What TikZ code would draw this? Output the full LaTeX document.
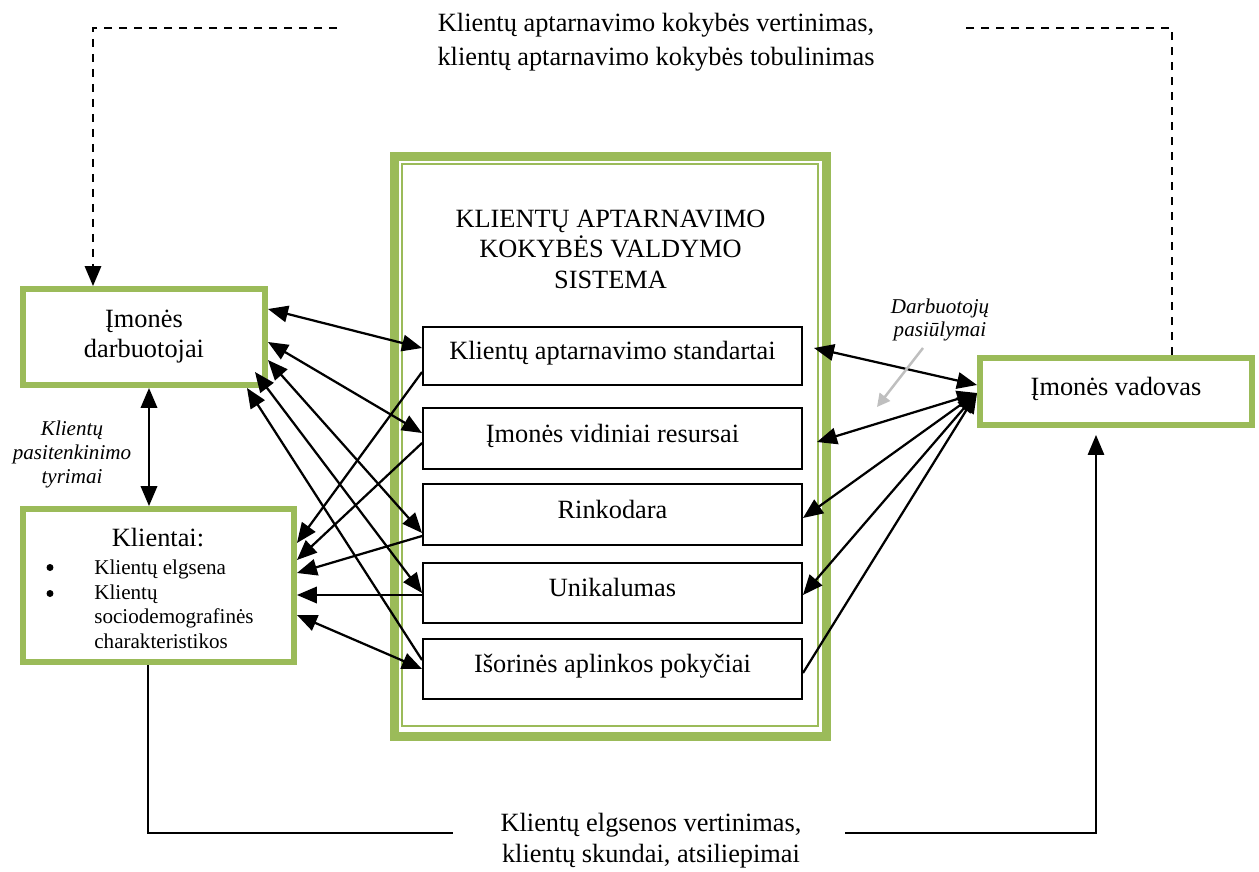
\documentclass[tikz,border=0pt]{standalone}
\usepackage{fontspec}
\setmainfont{Liberation Serif}
\usetikzlibrary{arrows.meta,calc}
\definecolor{grn}{HTML}{9BBB59}
\definecolor{lgray}{HTML}{BFBFBF}

\begin{document}
\begin{tikzpicture}[x=0.02cm,y=-0.02cm,
  gbox/.style={draw=grn, line width=0.12cm, inner sep=0pt, align=center,
    font=\fontsize{15}{17}\selectfont},
  ibox/.style={draw=black, line width=0.04cm, minimum width=7.58cm, inner sep=0pt,
    text height=0.7em, text depth=0.25em, font=\fontsize{15}{17}\selectfont},
  txt/.style={inner sep=0pt, align=center, font=\fontsize{15}{17.4}\selectfont},
  small/.style={inner sep=0pt, font=\fontsize{12}{14}\selectfont},
  dot/.style={circle, fill=black, inner sep=0pt, minimum size=0.14cm},
  note/.style={inner sep=0pt, align=center, font=\fontsize{12}{13.6}\selectfont\itshape},
  tip/.tip={Triangle[length=0.4cm,width=0.33cm]},
  stip/.tip={Triangle[length=0.26cm,width=0.26cm]},
  link/.style={line width=0.045cm, -tip},
  blink/.style={line width=0.045cm, tip-tip},
  flow/.style={line width=0.03cm},
  dashln/.style={line width=0.035cm, dash pattern=on 0.17cm off 0.13cm}
]
\useasboundingbox (0,0) rectangle (1259,872);

% central system frame (thick-thin green border)
\node[draw=grn, line width=0.18cm, minimum width=8.64cm, minimum height=11.61cm, inner sep=0pt]
  (sys) at (610.5,446.75) {};
\node[draw=grn, line width=0.04cm, minimum width=8.32cm, minimum height=11.24cm, inner sep=0pt]
  (sysin) at (610,445) {};
\node[txt] (title) at (610.5,249) {KLIENTŲ APTARNAVIMO\\KOKYBĖS VALDYMO\\SISTEMA};

% components of the system
\node[ibox, minimum height=1.16cm] (b1) at (612.5,356) {Klientų aptarnavimo standartai};
\node[ibox, minimum height=1.22cm] (b2) at (612.5,438.5) {Įmonės vidiniai resursai};
\node[ibox, minimum height=1.22cm] (b3) at (612.5,514.5) {Rinkodara};
\node[ibox, minimum height=1.20cm] (b4) at (612.5,593) {Unikalumas};
\node[ibox, minimum height=1.20cm] (b5) at (612.5,669) {Išorinės aplinkos pokyčiai};

% actors
\node[gbox, minimum width=4.84cm, minimum height=1.92cm] (dar) at (144,337) {Įmonės\\darbuotojai};
\node[gbox, minimum width=5.42cm, minimum height=3.06cm] (kli) at (158.5,585.5) {};
\node[gbox, minimum width=5.44cm, minimum height=1.34cm, text height=0.7em, text depth=0.25em]
  (vad) at (1116,391.5) {Įmonės vadovas};

% contents of the client box
\node[txt, anchor=base] (klit) at (158,546) {Klientai:};
\node[dot] (bul1) at (50,567.5) {};
\node[dot] (bul2) at (50,593.5) {};
\node[small, anchor=base west] (k1) at (94,574) {Klientų elgsena};
\node[small, anchor=base west] (k2) at (94,599) {Klientų};
\node[small, anchor=base west] (k3) at (94,623.5) {sociodemografinės};
\node[small, anchor=base west] (k4) at (94,648) {charakteristikos};

% side notes
\node[note] (tyr) at (72,454.5) {Klientų\\pasitenkinimo\\tyrimai};
\node[note] (pas) at (940,320) {Darbuotojų\\pasiūlymai};

% feedback texts
\node[txt, font=\fontsize{15}{19.3}\selectfont] (toptxt) at (656,42)
  {Klientų aptarnavimo kokybės vertinimas,\\klientų aptarnavimo kokybės tobulinimas};
\node[txt, font=\fontsize{15}{17.6}\selectfont] (bottxt) at (651,841)
  {Klientų elgsenos vertinimas,\\klientų skundai, atsiliepimai};

% employees <-> system
\draw[blink] (dar.east |- 0,309) -- (b1.west |- 0,348);
\draw[blink] (dar.east |- 0,342) -- (b2.west |- 0,433);
\draw[blink] (dar.east |- 0,360) -- (b3.west |- 0,533);
\draw[blink] ($(dar.south east)+(-13,-16)$) -- (b4.west |- 0,593);
\draw[link] (b5.west |- 0,660) -- ($(dar.south east)+(-21,0)$);

% system -> clients
\draw[link] (b1.west |- 0,372) -- (kli.east |- 0,543);
\draw[link] (b2.west |- 0,443) -- (kli.east |- 0,560);
\draw[link] (b3.west |- 0,536) -- (kli.east |- 0,573);
\draw[link] (b4.west |- 0,595) -- (kli.east |- 0,595);
\draw[blink] (kli.east |- 0,615) -- (b5.west |- 0,669);

% employees <-> clients
\draw[blink] (dar.south -| 149,0) -- (kli.north -| 149,0);

% manager <-> system
\draw[blink] ($(b1.east |- 0,348)+(11,0)$) -- (vad.west |- 0,385);
\draw[blink] ($(b2.east |- 0,442)+(14,0)$) -- (vad.west |- 0,393);
\draw[blink] (vad.west |- 0,393) -- (b3.east |- 0,518);
\draw[blink] (vad.west |- 0,393) -- (b4.east |- 0,595);
\draw[link] (b5.east |- 0,673) -- (vad.west |- 0,393);

% employee suggestions
\coordinate (g1) at (923,348);
\coordinate (g2) at (877,407);
\draw[line width=0.05cm, draw=lgray, fill=lgray, -stip] (g1) -- (g2);

% quality evaluation loop (dashed)
\coordinate (tl) at (337,28);
\coordinate (tr) at (962,28);
\draw[dashln, -tip] (tl) -| (dar.north -| 93,0);
\draw[dashln] (vad.north -| 1172,0) |- (tr);

% client feedback loop
\coordinate (bl) at (453,833);
\coordinate (br) at (845,833);
\draw[flow] (kli.south -| 148,0) |- (bl);
\draw[flow, -tip] (br) -| ($(vad.south -| 1096,0)+(0,7)$);
\end{tikzpicture}
\end{document}
